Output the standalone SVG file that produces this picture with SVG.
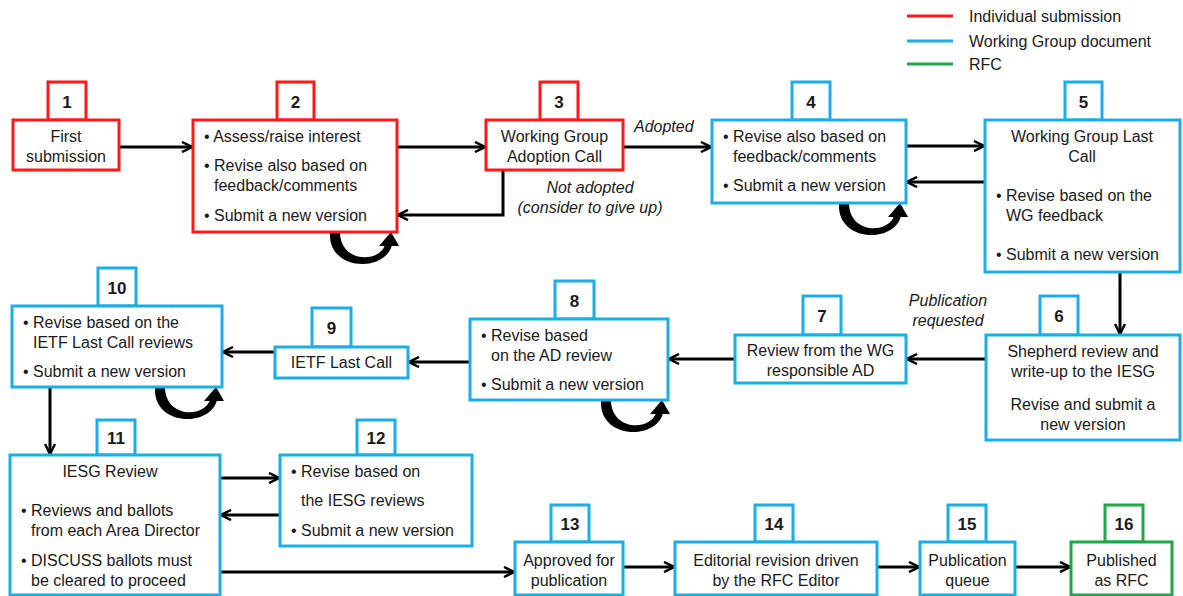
<svg xmlns="http://www.w3.org/2000/svg" width="1183" height="596" viewBox="0 0 1183 596">
<defs>
<marker id="ah" viewBox="0 0 12 12" refX="11" refY="6" markerWidth="12" markerHeight="12" markerUnits="userSpaceOnUse" orient="auto">
<path d="M1,1 L11,6 L1,11" fill="none" stroke="#000" stroke-width="2.5"/>
</marker>
<g id="loop">
<path d="M-67,0 C-69,38 -12,40 -5,12 L-12,12 C-18,30 -56,30 -57,0 Z" fill="#000"/>
<path d="M-18,13 L-6,-1 L2,13 Z" fill="#000"/>
</g>
</defs>
<style>
text{font-family:"Liberation Sans",Arial,sans-serif;font-size:16px;fill:#1a1a1a}
.c{text-anchor:middle}
.n{font-weight:bold;font-size:17px;text-anchor:middle}
.i{font-style:italic}
.r{fill:#fff;stroke:#ff1a1a;stroke-width:3}
.b{fill:#fff;stroke:#1aaee8;stroke-width:3}
.g{fill:#fff;stroke:#1fa847;stroke-width:3}
.a{fill:none;stroke:#000;stroke-width:3;marker-end:url(#ah)}
</style>
<g id="legend">
<line x1="907" y1="16" x2="953" y2="16" stroke="#ff1a1a" stroke-width="3"/>
<text x="969" y="22">Individual submission</text>
<line x1="907" y1="41" x2="953" y2="41" stroke="#1aaee8" stroke-width="3"/>
<text x="969" y="47">Working Group document</text>
<line x1="907" y1="64" x2="953" y2="64" stroke="#1fa847" stroke-width="3"/>
<text x="969" y="70">RFC</text>
</g>
<g id="connectors">
<path class="a" d="M119,147 H192"/>
<path class="a" d="M397,147 H485"/>
<path class="a" d="M623,147 H711"/>
<path class="a" d="M503,170 V215 H398"/>
<path class="a" d="M906,146 H984"/>
<path class="a" d="M985,182 H907"/>
<path class="a" d="M1120,272 V334"/>
<path class="a" d="M986,359 H907"/>
<path class="a" d="M735,359 H669"/>
<path class="a" d="M470,362 H409"/>
<path class="a" d="M275,352 H223"/>
<path class="a" d="M50,387 V454"/>
<path class="a" d="M220,478 H279"/>
<path class="a" d="M280,515 H221"/>
<path class="a" d="M220,572 H514"/>
<path class="a" d="M623,567 H674"/>
<path class="a" d="M877,567 H919"/>
<path class="a" d="M1015,567 H1070"/>
<use href="#loop" x="397" y="233"/>
<use href="#loop" x="906" y="204"/>
<use href="#loop" x="222" y="388"/>
<use href="#loop" x="668" y="401"/>
<text class="i" x="634" y="132">Adopted</text>
<text class="i c" x="590" y="193">Not adopted</text>
<text class="i c" x="590" y="213">(consider to give up)</text>
<text class="i c" x="948" y="306">Publication</text>
<text class="i c" x="948" y="326">requested</text>
</g>
<g id="node1">
<rect class="r" x="48" y="82" width="38" height="38"/>
<text class="n" x="67" y="108">1</text>
<rect class="r" x="13" y="120" width="106" height="50"/>
<text class="c" x="66" y="142">First</text>
<text class="c" x="66" y="162">submission</text>
</g>
<g id="node2">
<rect class="r" x="277" y="82" width="37" height="38"/>
<text class="n" x="295.500" y="108">2</text>
<rect class="r" x="193" y="120" width="204" height="112"/>
<text x="204" y="142">• Assess/raise interest</text>
<text x="204" y="171">• Revise also based on</text>
<text x="214" y="191">feedback/comments</text>
<text x="204" y="221">• Submit a new version</text>
</g>
<g id="node3">
<rect class="r" x="540" y="82" width="38" height="38"/>
<text class="n" x="559" y="108">3</text>
<rect class="r" x="486" y="120" width="137" height="50"/>
<text class="c" x="554.500" y="142">Working Group</text>
<text class="c" x="554.500" y="162">Adoption Call</text>
</g>
<g id="node4">
<rect class="b" x="792" y="82" width="38" height="38"/>
<text class="n" x="811" y="108">4</text>
<rect class="b" x="712" y="120" width="194" height="83"/>
<text x="723" y="142">• Revise also based on</text>
<text x="733" y="162">feedback/comments</text>
<text x="723" y="191">• Submit a new version</text>
</g>
<g id="node5">
<rect class="b" x="1065" y="82" width="37" height="38"/>
<text class="n" x="1083.500" y="108">5</text>
<rect class="b" x="985" y="120" width="195" height="152"/>
<text class="c" x="1082" y="142">Working Group Last</text>
<text class="c" x="1082" y="162">Call</text>
<text x="996" y="201">• Revise based on the</text>
<text x="1006" y="221">WG feedback</text>
<text x="996" y="260">• Submit a new version</text>
</g>
<g id="node6">
<rect class="b" x="1040" y="296" width="38" height="39"/>
<text class="n" x="1059" y="322">6</text>
<rect class="b" x="986" y="335" width="194" height="105"/>
<text class="c" x="1083" y="357">Shepherd review and</text>
<text class="c" x="1083" y="377">write-up to the IESG</text>
<text class="c" x="1083" y="410">Revise and submit a</text>
<text class="c" x="1083" y="430">new version</text>
</g>
<g id="node7">
<rect class="b" x="803" y="296" width="38" height="39"/>
<text class="n" x="822" y="322">7</text>
<rect class="b" x="735" y="335" width="171" height="48"/>
<text class="c" x="820.500" y="356">Review from the WG</text>
<text class="c" x="820.500" y="376">responsible AD</text>
</g>
<g id="node8">
<rect class="b" x="555" y="281" width="39" height="38"/>
<text class="n" x="574.500" y="307">8</text>
<rect class="b" x="470" y="319" width="198" height="81"/>
<text x="481" y="341">• Revise based</text>
<text x="491" y="361">on the AD review</text>
<text x="481" y="390">• Submit a new version</text>
</g>
<g id="node9">
<rect class="b" x="312" y="308" width="39" height="39"/>
<text class="n" x="331.500" y="334">9</text>
<rect class="b" x="275" y="347" width="133" height="31"/>
<text class="c" x="341.500" y="368">IETF Last Call</text>
</g>
<g id="node10">
<rect class="b" x="98" y="268" width="38" height="38"/>
<text class="n" x="117" y="294">10</text>
<rect class="b" x="12" y="306" width="210" height="81"/>
<text x="23" y="328">• Revise based on the</text>
<text x="33" y="348">IETF Last Call reviews</text>
<text x="23" y="377">• Submit a new version</text>
</g>
<g id="node11">
<rect class="b" x="97" y="420" width="38" height="35"/>
<text class="n" x="116" y="444">11</text>
<rect class="b" x="10" y="455" width="210" height="140"/>
<text class="c" x="110" y="477">IESG Review</text>
<text x="21" y="516">• Reviews and ballots</text>
<text x="31" y="536">from each Area Director</text>
<text x="21" y="566">• DISCUSS ballots must</text>
<text x="31" y="586">be cleared to proceed</text>
</g>
<g id="node12">
<rect class="b" x="357" y="420" width="38" height="35"/>
<text class="n" x="376" y="444">12</text>
<rect class="b" x="280" y="455" width="192" height="91"/>
<text x="291" y="477">• Revise based on</text>
<text x="301" y="506">the IESG reviews</text>
<text x="291" y="536">• Submit a new version</text>
</g>
<g id="node13">
<rect class="b" x="551" y="505" width="38" height="37"/>
<text class="n" x="570" y="530">13</text>
<rect class="b" x="515" y="542" width="108" height="53"/>
<text class="c" x="569" y="566">Approved for</text>
<text class="c" x="569" y="586">publication</text>
</g>
<g id="node14">
<rect class="b" x="755" y="505" width="38" height="37"/>
<text class="n" x="774" y="530">14</text>
<rect class="b" x="675" y="542" width="202" height="53"/>
<text class="c" x="776" y="566">Editorial revision driven</text>
<text class="c" x="776" y="586">by the RFC Editor</text>
</g>
<g id="node15">
<rect class="b" x="948" y="505" width="38" height="37"/>
<text class="n" x="967" y="530">15</text>
<rect class="b" x="920" y="542" width="95" height="53"/>
<text class="c" x="967.500" y="566">Publication</text>
<text class="c" x="967.500" y="586">queue</text>
</g>
<g id="node16">
<rect class="g" x="1105" y="505" width="38" height="37"/>
<text class="n" x="1124" y="530">16</text>
<rect class="g" x="1071" y="542" width="101" height="53"/>
<text class="c" x="1121.500" y="566">Published</text>
<text class="c" x="1121.500" y="586">as RFC</text>
</g>
</svg>
